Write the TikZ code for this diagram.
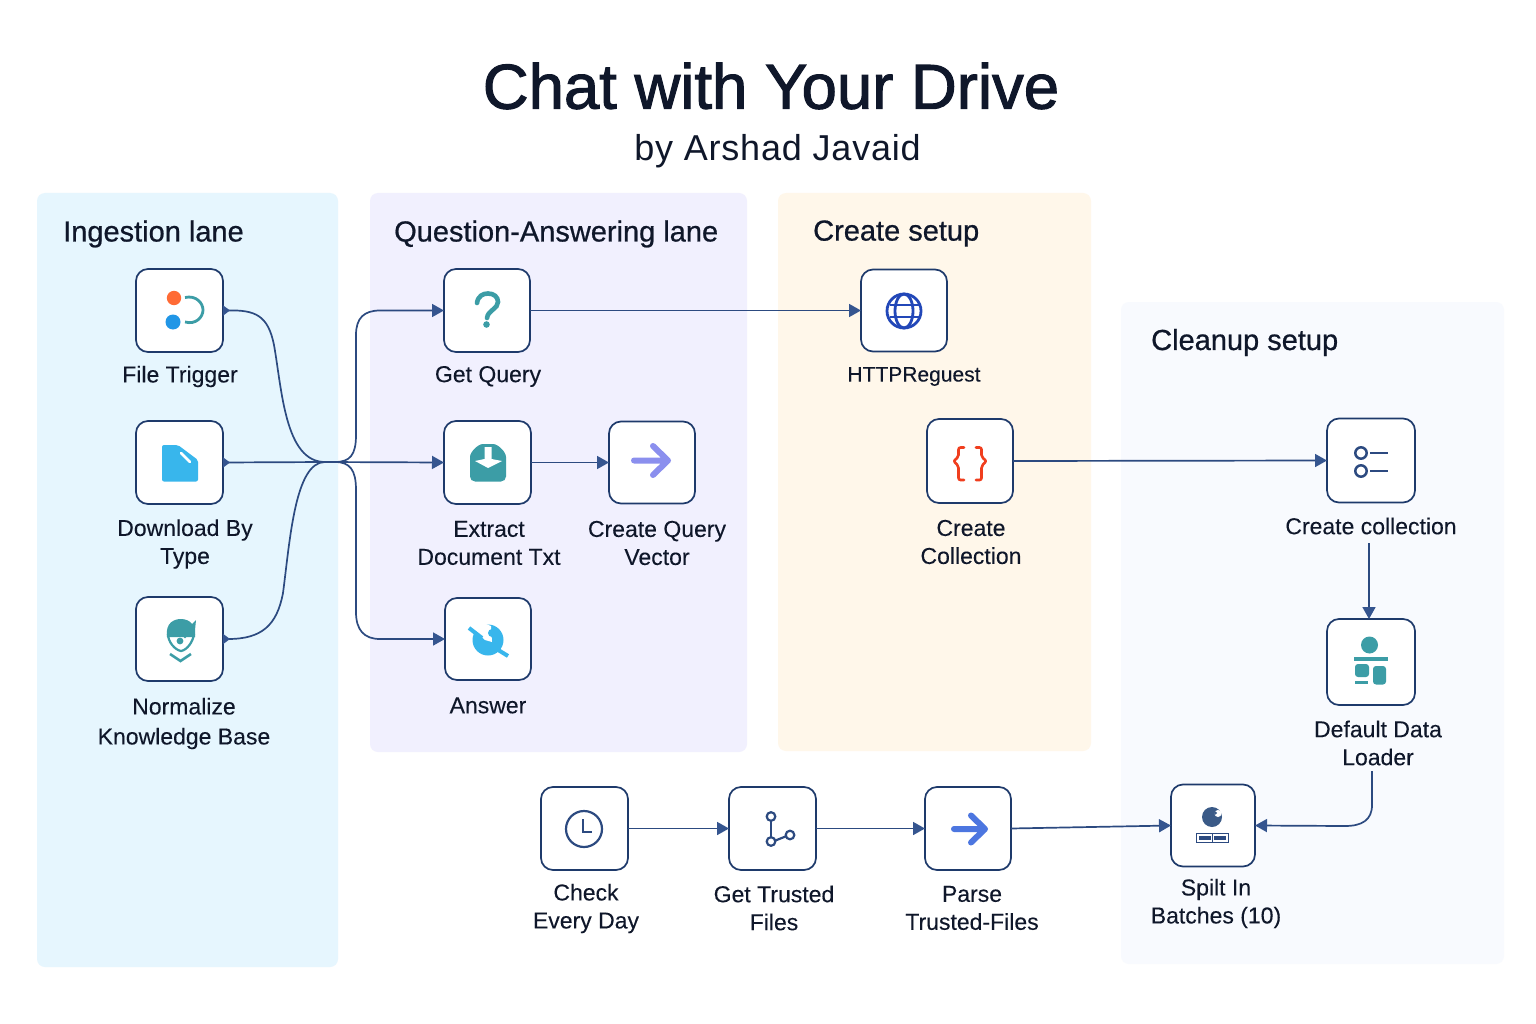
\documentclass[tikz,border=0pt]{standalone}
\usepackage{fontspec}
\setmainfont[FakeBold=0.15]{Liberation Sans}
\usetikzlibrary{arrows.meta}
\definecolor{ink}{HTML}{0F172A}
\definecolor{edge}{HTML}{1E3A6B}
\definecolor{wire}{HTML}{2C4A80}
\definecolor{tipc}{HTML}{35558F}
\definecolor{tealc}{HTML}{3C9DA6}
\definecolor{cyanb}{HTML}{38B6EC}
\definecolor{pblue}{HTML}{E6F6FE}
\definecolor{ppurple}{HTML}{F1F0FE}
\definecolor{porange}{HTML}{FFF7EA}
\definecolor{pclean}{HTML}{F8FAFE}
\definecolor{orangec}{HTML}{FF6B35}
\definecolor{bluec}{HTML}{2196E6}
\definecolor{lilac}{HTML}{8B8FEE}
\definecolor{globec}{HTML}{2247B8}
\definecolor{redc}{HTML}{F03E1E}
\definecolor{slatec}{HTML}{3A5A87}
\definecolor{parsec}{HTML}{4C76E0}
\newfontfamily\titlefont[FakeBold=1.6]{Liberation Sans}
\newfontfamily\lanefont[FakeBold=0.7]{Liberation Sans}
\newfontfamily\subfont[LetterSpace=2.2]{Liberation Sans}
\tikzset{
 panel/.style={rounded corners=8pt,draw=none,inner sep=0pt,outer sep=0pt},
 nodebox/.style={draw=edge,fill=white,line width=1.7pt,rounded corners=12pt,inner sep=0pt,outer sep=0pt},
 lbl/.style={text=ink,align=center,font=\fontsize{23}{28}\selectfont,inner sep=0pt},
 lane/.style={text=ink,anchor=west,font=\lanefont\fontsize{29}{32}\selectfont,inner sep=0pt},
 wirel/.style={draw=wire,line width=1.7pt},
 arr/.style={wirel,-{Triangle[length=12pt,width=13pt,color=tipc]}},
 srcarr/.style={wirel,{Triangle[length=7pt,width=10pt,color=tipc,reversed]}-}
}
\begin{document}
\begin{tikzpicture}[x=1pt,y=-1pt]
\useasboundingbox (0,0) rectangle (1536,1024);
\fill[white] (0,0) rectangle (1536,1024);
% panels
\node[panel,fill=pblue,minimum width=301pt,minimum height=774pt] (pa) at (187.5,580) {};
\node[panel,fill=ppurple,minimum width=377pt,minimum height=559pt] (pb) at (558.5,472.5) {};
\node[panel,fill=porange,minimum width=313pt,minimum height=558pt] (pc) at (934.5,472) {};
\node[panel,fill=pclean,minimum width=383pt,minimum height=662pt] (pd) at (1312.5,633) {};
% title
\node[text=ink,font=\titlefont\fontsize{63.5}{70}\selectfont,inner sep=0pt] (title) at (771,86) {Chat with Your Drive};
\node[text=ink,font=\subfont\fontsize{36}{40}\selectfont,inner sep=0pt] (sub) at (777.5,151.5) {by Arshad Javaid};
\node[lane] (la) at (63,234) {Ingestion lane};
\node[lane] (lb) at (394,234) {Question-Answering lane};
\node[lane] (lc) at (813,233.5) {Create setup};
\node[lane] (ld) at (1151,342.5) {Cleanup setup};
% boxes
\node[nodebox,minimum width=87pt,minimum height=83pt] (ft) at (179.5,310.5) {};
\node[nodebox,minimum width=87pt,minimum height=83pt] (dl) at (179.5,462.5) {};
\node[nodebox,minimum width=87pt,minimum height=84pt] (nk) at (179.5,639) {};
\node[nodebox,minimum width=86pt,minimum height=83pt] (gq) at (487,310.5) {};
\node[nodebox,minimum width=87pt,minimum height=83pt] (ex) at (487.5,462.5) {};
\node[nodebox,minimum width=86pt,minimum height=82pt] (cq) at (652,462.5) {};
\node[nodebox,minimum width=86pt,minimum height=82pt] (an) at (488,639) {};
\node[nodebox,minimum width=86pt,minimum height=82pt] (ht) at (904,310.5) {};
\node[nodebox,minimum width=86pt,minimum height=84pt] (cc) at (970,461) {};
\node[nodebox,minimum width=88pt,minimum height=84pt] (cl) at (1371,460.5) {};
\node[nodebox,minimum width=88pt,minimum height=86pt] (dd) at (1371,662) {};
\node[nodebox,minimum width=84pt,minimum height=82pt] (sp) at (1213,825.5) {};
\node[nodebox,minimum width=87pt,minimum height=83pt] (ck) at (584.5,828.5) {};
\node[nodebox,minimum width=87pt,minimum height=83pt] (gt) at (772.5,828.5) {};
\node[nodebox,minimum width=86pt,minimum height=83pt] (pt) at (968,828.5) {};
% labels
\node[lbl] (lft) at (180,376.5) {File Trigger};
\node[lbl] (ldl) at (185,544) {Download By\\Type};
\node[lbl,font=\fontsize{23}{30}\selectfont] (lnk) at (184,723.5) {Normalize\\Knowledge Base};
\node[lbl] (lgq) at (488,376.5) {Get Query};
\node[lbl] (lex) at (489,543) {Extract\\Document Txt};
\node[lbl] (lcq) at (657,543) {Create Query\\Vector};
\node[lbl] (lan) at (488,705.5) {Answer};
\node[lbl,font=\fontsize{21}{28}\selectfont] (lht) at (914,376.5) {HTTPReguest};
\node[lbl] (lcc) at (971,542) {Create\\Collection};
\node[lbl] (lcl) at (1371,526) {Create collection};
\node[lbl] (ldd) at (1378,743) {Default Data\\Loader};
\node[lbl] (lsp) at (1216,903.5) {Spilt In\\Batches (10)};
\node[lbl] (lck) at (586,908.5) {Check\\Every Day};
\node[lbl] (lgt) at (774,908) {Get Trusted\\Files};
\node[lbl] (lpt) at (972,908) {Parse\\Trusted-Files};
% junction
\coordinate (ja) at (325,462);
\coordinate (jb) at (335,462);
\coordinate (ddout) at (1372,771);
\coordinate (clout) at (1369,543);
% connectors
\draw[srcarr] (ft.east) .. controls (255,310) and (268,315) .. (274,345) .. controls (282,390) and (285,462) .. (ja);
\draw[srcarr] (nk.east) .. controls (262,639) and (277,625) .. (283,593) .. controls (290,540) and (295,462) .. (ja);
\draw[srcarr] (dl.east) -- (ja);
\draw[arr] (ja) -- (ex.west);
\draw[arr] (jb) .. controls (350,462) and (356,455) .. (356,435) -- (356,335) .. controls (356,318) and (364,310.5) .. (380,310.5) -- (gq.west);
\draw[arr] (jb) .. controls (350,462) and (356,470) .. (356,490) -- (356,612) .. controls (356,630) and (364,639) .. (380,639) -- (an.west);
\draw[arr] (gq.east) -- (ht.west);
\draw[arr] (ex.east) -- (cq.west);
\draw[arr] (cc.east) -- (cl.west);
\draw[arr] (clout) -- (clout |- dd.north);
\draw[arr] (ddout) -- (1372,805) .. controls (1372,820) and (1362,826) .. (1345,826) -- (sp.east);
\draw[arr] (ck.east) -- (gt.west);
\draw[arr] (gt.east) -- (pt.west);
\draw[arr] (pt.east) -- (sp.west);
% icons
% file trigger
\fill[orangec] (174,298) circle (7.2);
\fill[bluec] (173,322) circle (7.5);
\draw[tealc,line width=2.8pt] (185,297.5) .. controls (196,295) and (203,303) .. (203,310) .. controls (203,317) and (196,325) .. (185,322);
% download
\fill[cyanb,rounded corners=2pt] (162,445) -- (178,445) -- (198,460) -- (198,481.5) -- (162,481.5) -- cycle;
\draw[white,line width=2.6pt,line cap=round] (181,453) -- (190,462);
% normalize
\fill[tealc] (167,637) .. controls (165,622) and (175,619) .. (181,619) .. controls (186,619) and (190,621) .. (192,624) -- (196,620) -- (195,630) -- (195,637) -- cycle;
\draw[tealc,line width=2.2pt] (168,634) .. controls (168,642) and (175,650) .. (181,651) .. controls (187,650) and (193,642) .. (194,634);
\fill[tealc] (180,641) circle (3.4);
\fill[tealc] (185,637) circle (1.3);
\draw[tealc,line width=2.6pt] (170,654) -- (180.5,661) -- (191,654);
% question mark
\draw[tealc,line width=4.6pt,line cap=round] (477,303) .. controls (478,296) and (483,293.5) .. (488,293.5) .. controls (494,293.5) and (498,297) .. (498,302) .. controls (498,309) and (488,310) .. (487,318);
\fill[tealc] (486.5,324.5) circle (3.3);
% extract
\fill[tealc,rounded corners=5pt] (470,481.5) -- (470,462) .. controls (470,452) and (478,444) .. (488,444) .. controls (498,444) and (506,452) .. (506,462) -- (506,481.5) -- cycle;
\fill[white] (484.5,447) -- (491.5,447) -- (491.5,459) -- (502,461) -- (488,468) -- (475,461) -- (484.5,459) -- cycle;
% create query arrow
\draw[lilac,line width=6pt,line cap=round,line join=round] (634,460.5) -- (665,460.5) (653,446) -- (668,460.5) -- (653,475);
% answer
\fill[cyanb] (488,640) circle (15.5);
\fill[white] (476,620) -- (491,626) -- (492,642) -- (485,640) -- (472,628) -- cycle;
\draw[cyanb,line width=4pt] (469,628) -- (482,638);
\draw[cyanb,line width=4pt] (495,648) -- (508,656);
\fill[cyanb] (492,633) circle (4);
% globe
\begin{scope}[draw=globec,line width=2.8pt]
\draw (904,311) circle (17);
\draw (904,311) ellipse (9 and 17);
\draw (889.5,305) -- (918.5,305) (889.5,317) -- (918.5,317);
\end{scope}
% braces
\draw[redc,line width=2.6pt,line cap=round,line join=round,rounded corners=2pt] (964,447.5) -- (958.5,447.5) -- (958.5,457) -- (953.5,461) -- (958.5,466) -- (958.5,480) -- (964,480);
\draw[redc,line width=2.6pt,line cap=round,line join=round,rounded corners=2pt] (976,447.5) -- (981.5,447.5) -- (981.5,457) -- (986.5,461) -- (981.5,466) -- (981.5,480) -- (976,480);
% list
\begin{scope}[draw=wire,line width=2.5pt]
\draw (1361,453) circle (5.7);
\draw (1361,471) circle (5.7);
\draw (1370,453) -- (1388,453) (1370,471) -- (1388,471);
\end{scope}
% data loader
\fill[tealc] (1369.5,645) circle (8.5);
\fill[tealc] (1354,657) rectangle (1388,661);
\fill[tealc,rounded corners=3pt] (1355,664) rectangle (1369,677);
\fill[tealc] (1355,681) rectangle (1368,684);
\fill[tealc,rounded corners=3pt] (1373,666) rectangle (1386,684.5);
% split
\fill[slatec] (1212,817) circle (10);
\fill[white] (1218,813.5) circle (3.5);
\fill[white] (1221,810) -- (1224,816) -- (1222,808) -- cycle;
\fill[slatec] (1215.5,813) circle (1.6);
\draw[wire,line width=1.6pt,fill=white] (1196.5,833.5) rectangle (1228.5,842.5);
\fill[wire] (1199,836) rectangle (1211,840);
\fill[wire] (1214,836) rectangle (1226,840);
\draw[wire,line width=1.2pt] (1212.5,833) -- (1212.5,843);
% clock
\draw[wire,line width=2.2pt] (584,829) circle (18);
\draw[wire,line width=2.2pt] (583,819) -- (583,832) -- (592,832);
% branch
\begin{scope}[draw=wire,line width=2.2pt]
\draw (771,816.5) circle (4.3);
\draw (771,841.5) circle (4.3);
\draw (790,835) circle (4.3);
\draw (771,821) -- (771,837);
\draw (775.5,840.5) -- (785.5,836.5);
\end{scope}
% parse arrow
\draw[parsec,line width=6pt,line cap=round,line join=round] (954,829) -- (983,829) (971,815.5) -- (985,829) -- (971,842.5);
\end{tikzpicture}
\end{document}
